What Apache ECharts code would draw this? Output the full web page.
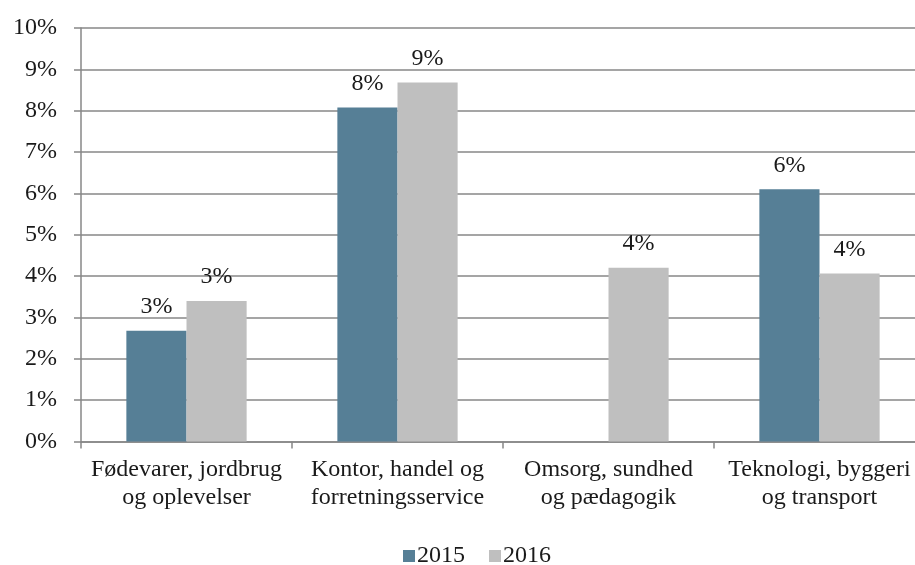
<!DOCTYPE html>
<html>
<head>
<meta charset="utf-8">
<script src="https://cdn.jsdelivr.net/npm/echarts@6/dist/echarts.min.js"></script>
<style>html,body{margin:0;padding:0;background:#fff;overflow:hidden}#c{width:925px;height:565px}</style>
</head>
<body>
<div id="c"></div>
<script>
const categories = ["Fødevarer, jordbrug\nog oplevelser", "Kontor, handel og\nforretningsservice", "Omsorg, sundhed\nog pædagogik", "Teknologi, byggeri\nog transport"];
const series2015 = [2.68, 8.08, null, 6.1];
const series2016 = [3.4, 8.68, 4.2, 4.06];
const seriesNames = ["2015", "2016"];
const yTicks = [0, 1, 2, 3, 4, 5, 6, 7, 8, 9, 10];

const FONT = "Liberation Serif";
const FS = 24;
const chart = echarts.init(document.getElementById('c'), null, {renderer: 'canvas', width: 925, height: 565});
const lbl = {
  show: true, position: 'top', distance: 12,
  fontFamily: FONT, fontSize: FS, color: '#1a1a1a',
  formatter: p => Math.round(p.value) + '%'
};
chart.setOption({
  animation: false,
  textStyle: {fontFamily: FONT},
  grid: {left: 81, right: 0, top: 28, bottom: 123.5, containLabel: false, outerBoundsMode: 'none'},
  legend: {
    top: 539, left: 398, itemWidth: 12, itemHeight: 12, itemGap: 24,
    icon: 'rect',
    textStyle: {fontFamily: FONT, fontSize: FS, color: '#1a1a1a', padding: [0, 0, 0, -3]},
    data: seriesNames
  },
  xAxis: {
    type: 'category', data: categories,
    axisLine: {lineStyle: {color: '#878787', width: 1.5}},
    axisTick: {show: true, length: 7, lineStyle: {color: '#878787', width: 1.5}},
    axisLabel: {fontFamily: FONT, fontSize: FS, color: '#1a1a1a', lineHeight: 28, margin: 14, interval: 0}
  },
  yAxis: {
    type: 'value', min: 0, max: 10, interval: 1,
    axisLine: {show: true, lineStyle: {color: '#878787', width: 1.5}},
    axisTick: {show: true, length: 7, lineStyle: {color: '#878787', width: 1.5}},
    splitLine: {show: true, lineStyle: {color: '#878787', width: 1.5}},
    axisLabel: {fontFamily: FONT, fontSize: FS, color: '#1a1a1a', margin: 24,
      formatter: v => yTicks.includes(v) ? v + '%' : ''}
  },
  series: [
    {name: seriesNames[0], type: 'bar', data: series2015, barGap: '0%', barCategoryGap: '43%',
     itemStyle: {color: '#567f96'}, label: lbl},
    {name: seriesNames[1], type: 'bar', data: series2016, barGap: '0%', barCategoryGap: '43%',
     itemStyle: {color: '#bfbfbf'}, label: lbl}
  ]
});
</script>
</body>
</html>
